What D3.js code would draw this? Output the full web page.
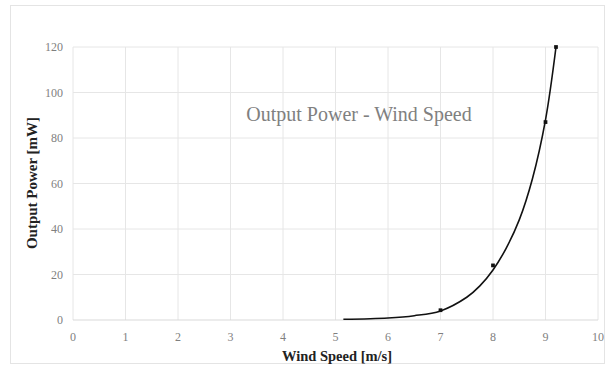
<!DOCTYPE html>
<html><head><meta charset="utf-8">
<script src="https://cdn.jsdelivr.net/npm/d3@7"></script>
<style>body{margin:0;background:#fff}svg{display:block}</style>
</head><body>
<svg id="c" width="611" height="372"></svg>
<script>
const speeds = [7, 8, 9, 9.2];
const powers = [4.3, 24, 87, 120];
const trendX = [5.15, 6, 6.5, 7, 7.5, 7.75, 8, 8.25, 8.5, 8.75, 9, 9.2];
const trendY = [0.3, 0.9, 1.9, 4.0, 10, 15, 22, 31.5, 44, 62, 88, 120];
const xTicks = [0,1,2,3,4,5,6,7,8,9,10];
const yTicks = [0,20,40,60,80,100,120];

const svg = d3.select("#c");
const m = {l:73, r:13, t:47, b:52};
const W = 611, H = 372;
const x = d3.scaleLinear().domain([0,10]).range([m.l, W-m.r]);
const y = d3.scaleLinear().domain([0,120]).range([H-m.b, m.t]);

svg.append("rect").attr("x",10.5).attr("y",5.5).attr("width",594).attr("height",358)
  .attr("fill","#fff").attr("stroke","#e4e4e4");

const g = svg.append("g");
g.selectAll(".vg").data(xTicks).join("line")
  .attr("x1",d=>x(d)).attr("x2",d=>x(d)).attr("y1",y(0)).attr("y2",y(120))
  .attr("stroke","#e6e6e6").attr("stroke-width",1);
g.selectAll(".hg").data(yTicks).join("line")
  .attr("x1",x(0)).attr("x2",x(10)).attr("y1",d=>y(d)).attr("y2",d=>y(d))
  .attr("stroke",d=>d===0?"#d9d9d9":"#e6e6e6").attr("stroke-width",1);

const font = "'Liberation Serif','Times New Roman',serif";
g.selectAll(".xt").data(xTicks).join("text")
  .attr("x",d=>x(d)).attr("y",y(0)+21).attr("text-anchor","middle")
  .attr("font-family",font).attr("font-size",12).attr("fill","#7f7f7f").text(d=>d);
g.selectAll(".yt").data(yTicks).join("text")
  .attr("x",x(0)-10).attr("y",d=>y(d)+4).attr("text-anchor","end")
  .attr("font-family",font).attr("font-size",12).attr("fill","#7f7f7f").text(d=>d);

svg.append("text").attr("x",337).attr("y",361).attr("text-anchor","middle")
  .attr("font-family",font).attr("font-size",14.5).attr("font-weight","bold").attr("fill","#222")
  .text("Wind Speed [m/s]");
svg.append("text").attr("transform",`translate(37,183) rotate(-90)`)
  .attr("text-anchor","middle")
  .attr("font-family",font).attr("font-size",15).attr("font-weight","bold").attr("fill","#222")
  .text("Output Power [mW]");
svg.append("text").attr("x",359).attr("y",121).attr("text-anchor","middle")
  .attr("font-family",font).attr("font-size",20).attr("fill","#808080")
  .text("Output Power - Wind Speed");

const line = d3.line().x(d=>x(d[0])).y(d=>y(d[1])).curve(d3.curveCatmullRom.alpha(0.5));
svg.append("path").datum(d3.zip(trendX, trendY)).attr("d",line)
  .attr("fill","none").attr("stroke","#111").attr("stroke-width",1.6);

svg.selectAll(".pt").data(d3.zip(speeds, powers)).join("path")
  .attr("transform",d=>`translate(${x(d[0])},${y(d[1])})`)
  .attr("d",d3.symbol(d3.symbolSquare,14)).attr("fill","#111");
</script>
</body></html>
